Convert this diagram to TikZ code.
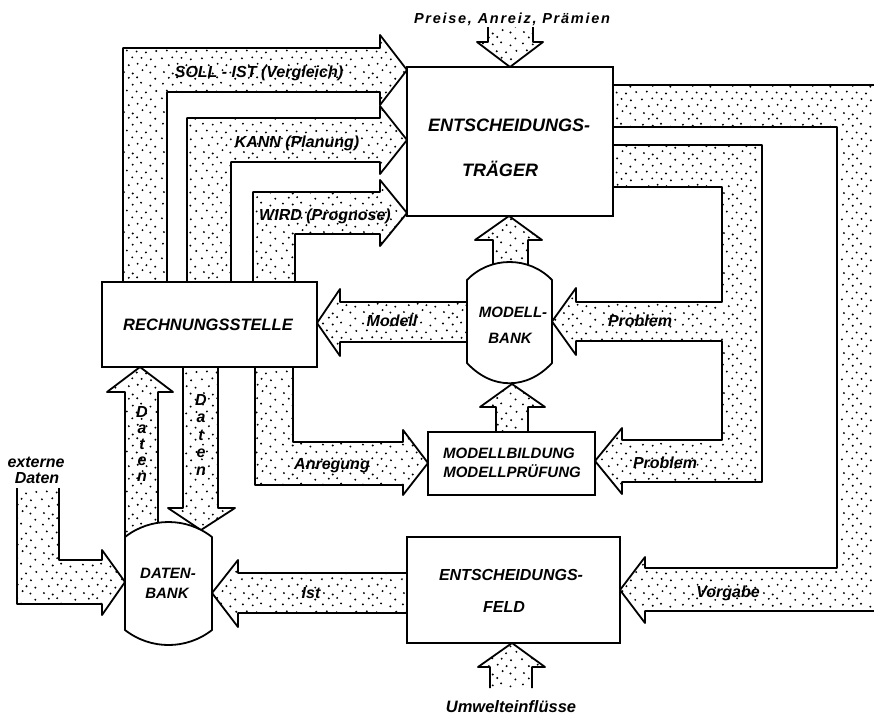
\documentclass[tikz,border=0pt]{standalone}
\usepackage{fontspec}
\setmainfont{Liberation Sans}
\usetikzlibrary{patterns}
\pgfdeclarepatternformonly{stipple}{\pgfpoint{0pt}{0pt}}{\pgfpoint{40pt}{40pt}}{\pgfpoint{40pt}{40pt}}{%
  \foreach \px/\py in {4/3,13/1.5,23/5,31/2.5,9/10,18/11.5,27/10,36/8.5,2/17,12.5/18,22/17.5,31.5/16,7/25,17/24,26.5/23,37/24.5,3/32,13/31,21.5/33,31/30,9/38,17.5/38.5,36/37}{%
    \pgfpathcircle{\pgfpoint{\px pt}{\py pt}}{1.1pt}}
  \pgfusepath{fill}}
\newcommand\fatarrow[1]{\fill[pattern=stipple] #1 -- cycle; \draw[ol] #1;}
\newcommand\fs[1]{\fontsize{#1}{#1}\selectfont}
\begin{document}
\begin{tikzpicture}[x=1pt,y=-1pt,
  ol/.style={line width=1.8pt, line join=round},
  box/.style={draw, line width=1.8pt, fill=white, inner sep=0pt, outer sep=0pt},
  lbl/.style={font=\bfseries\itshape, inner sep=0pt, anchor=base}]
\useasboundingbox (0,0) rectangle (874,715);
\fill[white] (0,0) rectangle (874,715);
\clip (0,0) rectangle (874,715);

% ---- broad arrows ----
\fatarrow{(123,282) -- (123,48) -- (380,48) -- (380,35) -- (407,70) -- (380,105) -- (380,92) -- (167,92) -- (167,282)}
\fatarrow{(187,282) -- (187,118) -- (380,118) -- (380,106) -- (407,140) -- (380,174) -- (380,162) -- (231,162) -- (231,282)}
\fatarrow{(253,282) -- (253,192) -- (380,192) -- (380,180) -- (407,213) -- (380,246) -- (380,234) -- (295,234) -- (295,282)}
\fatarrow{(533,27) -- (533,42) -- (543,42) -- (510,67) -- (477,42) -- (488,42) -- (488,27)}
\fatarrow{(613,145) -- (762,145) -- (762,482) -- (622,482) -- (622,494) -- (595,461) -- (622,428) -- (622,440) -- (722,440) -- (722,341) -- (576,341) -- (576,355) -- (552,321.5) -- (576,288) -- (576,302) -- (722,302) -- (722,187) -- (613,187)}
\fatarrow{(613,85) -- (885,85) -- (885,611) -- (645,611) -- (645,623) -- (620,590) -- (645,557) -- (645,568) -- (837,568) -- (837,127) -- (613,127)}
\fatarrow{(407,573) -- (238,573) -- (238,560) -- (212,593) -- (238,627) -- (238,613) -- (407,613)}
\fatarrow{(59,488) -- (59,560) -- (102,560) -- (102,550) -- (125,582) -- (102,615) -- (102,604) -- (17,604) -- (17,488)}
\fatarrow{(125,545) -- (125,392) -- (107,392) -- (140,367) -- (173,392) -- (158,392) -- (158,545)}
\fatarrow{(183,367) -- (183,508) -- (168,508) -- (201,530) -- (235,508) -- (218,508) -- (218,367)}
\fatarrow{(255,367) -- (255,485) -- (403,485) -- (403,495) -- (428,463) -- (403,430) -- (403,442) -- (293,442) -- (293,367)}
\fatarrow{(467,302) -- (340,302) -- (340,289) -- (317,323) -- (340,356) -- (340,342) -- (467,342)}
\fatarrow{(493,272) -- (493,240) -- (475,240) -- (509,216) -- (542,240) -- (528,240) -- (528,272)}
\fatarrow{(490,688) -- (490,667) -- (478,667) -- (512,643) -- (545,667) -- (532,667) -- (532,688)}

% ---- boxes ----
\node[box, minimum width=206pt, minimum height=149pt] (et) at (510,141.5) {};
\node[box, minimum width=215pt, minimum height=85pt] (rs) at (209.5,324.5) {};
\node[box, minimum width=167pt, minimum height=63pt] (mb) at (511.5,463.5) {};
\node[box, minimum width=213pt, minimum height=106pt] (ef) at (513.5,590) {};
\draw[ol, fill=white] (467,280) .. controls (490,256) and (529,256) .. (552,280) -- (552,363) .. controls (527,390) and (492,390) .. (467,363) -- cycle;
\node (mbank) at (509.5,321) {};
\draw[ol, fill=white] (125,537) .. controls (150.5,517) and (186.5,517) .. (212,537) -- (212,630) .. controls (186.5,650) and (150.5,650) .. (125,630) -- cycle;
\node (dbank) at (168.5,583) {};

\fatarrow{(496,432) -- (496,407) -- (480,407) -- (512,384) -- (545,407) -- (528,407) -- (528,432)}

% ---- texts ----
\node[lbl] (t1) at (512,23) {\fs{14.5}\addfontfeatures{LetterSpace=12}Preise, Anreiz, Prämien};
\node[lbl] (t2) at (259,77) {\fs{16}SOLL - IST (Vergleich)};
\node[lbl] (t3) at (297,147) {\fs{16}KANN (Planung)};
\node[lbl] (t4) at (325,220) {\fs{16}WIRD (Prognose)};
\node[lbl] (t5) at (509,131) {\fs{18}ENTSCHEIDUNGS-};
\node[lbl] (t6) at (500,176) {\fs{18}TRÄGER};
\node[lbl] (t7) at (208,330) {\fs{16.5}RECHNUNGSSTELLE};
\node[lbl] (t8) at (392,326) {\fs{16}Modell};
\node[lbl] (t9) at (513,317) {\fs{15}MODELL-};
\node[lbl] (t10) at (510,343) {\fs{15}BANK};
\node[lbl] (t11) at (640,326) {\fs{16}Problem};
\node[lbl] (t12) at (665,468) {\fs{16}Problem};
\node[lbl] (t13) at (509,458) {\fs{15}MODELLBILDUNG};
\node[lbl] (t14) at (512,477) {\fs{15}MODELLPRÜFUNG};
\node[lbl] (t15) at (332,469) {\fs{16}Anregung};
\node[lbl] (t16) at (36,467) {\fs{16}externe};
\node[lbl] (t17) at (37,483) {\fs{16}Daten};
\foreach \c [count=\i] in {D,a,t,e,n} {
  \node[lbl] (du\i) at (142,401+16*\i) {\fs{16}\c};
  \node[lbl] (dd\i) at (201,387.5+17.5*\i) {\fs{16}\c};
}
\node[lbl] (t18) at (168,578) {\fs{15}DATEN-};
\node[lbl] (t19) at (167,598) {\fs{15}BANK};
\node[lbl] (t20) at (311,598) {\fs{16}Ist};
\node[lbl] (t21) at (511,580) {\fs{16}ENTSCHEIDUNGS-};
\node[lbl] (t22) at (504,612) {\fs{16}FELD};
\node[lbl] (t23) at (728,597) {\fs{16}Vorgabe};
\node[lbl] (t24) at (511,712) {\fs{16.5}Umwelteinflüsse};
\end{tikzpicture}
\end{document}
